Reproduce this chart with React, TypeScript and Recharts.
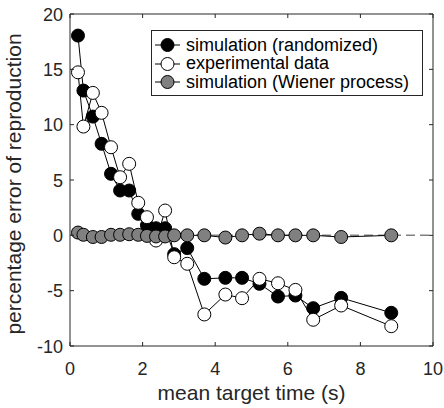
import React from "react";
import {
  Legend,
  Line,
  LineChart,
  ReferenceArea,
  ReferenceLine,
  XAxis,
  YAxis,
} from "recharts";

const targetTimes = [
  0.22, 0.37, 0.63, 0.87, 1.13, 1.38, 1.63, 1.88, 2.12, 2.37, 2.62, 2.87, 3.23,
  3.7, 4.28, 4.74, 5.22, 5.73, 6.21, 6.7, 7.47, 8.85,
];
const simRandomized = [
  18.05, 13.08, 10.73, 8.27, 5.56, 4.05, 4.05, 1.94, 0.9, 0.64, 0.64, -1.7,
  -1.15, -3.93, -3.84, -3.84, -4.38, -5.53, -5.44, -6.58, -5.65, -7.0,
];
const experimental = [
  14.73, 9.83, 12.87, 11.07, 7.96, 5.25, 6.46, 2.94, 1.64, -0.47, 2.24, -1.98,
  -2.57, -7.15, -5.35, -5.68, -3.93, -4.33, -4.93, -7.63, -6.34, -8.21,
];
const simWiener = [
  0.25, 0.05, -0.15, -0.15, 0.05, 0.05, 0.1, 0.05, -0.05, -0.1, -0.1, 0, 0, 0,
  -0.2, 0, 0.15, 0, 0, 0, -0.15, 0,
];
const xTicks = [0, 2, 4, 6, 8, 10];
const yTicks = [-10, -5, 0, 5, 10, 15, 20];
const seriesNames = [
  "simulation (randomized)",
  "experimental data",
  "simulation (Wiener process)",
];

const data = targetTimes.map((x, i) => ({
  x,
  sim: simRandomized[i],
  exp: experimental[i],
  wiener: simWiener[i],
}));

const FONT = "'Liberation Sans', Arial, Helvetica, sans-serif";
const AX = "#262626";
const GRAY = "#808080";
const TOP = 14;
const BOTTOM = 346;
const LEFT = 70;
const RIGHT = 433;
const TICK = 4;
const R = 6.5;

const fills = ["#000000", "#ffffff", GRAY];

function XTick({ x, payload }: any) {
  return (
    <g>
      <line x1={x} y1={BOTTOM} x2={x} y2={BOTTOM - TICK} stroke={AX} />
      <line x1={x} y1={TOP} x2={x} y2={TOP + TICK} stroke={AX} />
      <text
        x={x}
        y={375}
        textAnchor="middle"
        fontFamily={FONT}
        fontSize={18}
        fill={AX}
      >
        {payload.value}
      </text>
    </g>
  );
}

function YTick({ y, payload }: any) {
  return (
    <g>
      <line x1={LEFT} y1={y} x2={LEFT + TICK} y2={y} stroke={AX} />
      <line x1={RIGHT} y1={y} x2={RIGHT - TICK} y2={y} stroke={AX} />
      <text
        x={63}
        y={y + 6.5}
        textAnchor="end"
        fontFamily={FONT}
        fontSize={18}
        fill={AX}
      >
        {payload.value}
      </text>
    </g>
  );
}

function LegendBox() {
  return (
    <div
      style={{
        border: `1px solid ${AX}`,
        background: "#fff",
        padding: "5px 0 3px 0",
        fontFamily: FONT,
        fontSize: 18,
        color: "#000",
        width: 270,
      }}
    >
      {seriesNames.map((name, i) => (
        <div
          key={name}
          style={{ display: "flex", alignItems: "center", height: 18.5 }}
        >
          <svg width={34} height={18} style={{ flex: "none" }}>
            <line x1={3} y1={9} x2={28} y2={9} stroke="#000" strokeWidth={1} />
            <circle cx={15.5} cy={9} r={R} fill={fills[i]} stroke="#000" />
          </svg>
          <span style={{ whiteSpace: "nowrap" }}>{name}</span>
        </div>
      ))}
    </div>
  );
}

export default function App() {
  return (
    <div style={{ width: 444, height: 408, background: "#fff" }}>
      <style>{`body{margin:0}`}</style>
      <LineChart
        width={444}
        height={408}
        data={data}
        margin={{ top: TOP, right: 444 - RIGHT, left: 0, bottom: 0 }}
      >
        <XAxis
          dataKey="x"
          type="number"
          domain={[0, 10]}
          ticks={xTicks}
          height={62}
          tickLine={false}
          axisLine={false}
          tickSize={0}
          tick={<XTick />}
          interval={0}
          label={{
            content: () => (
              <text
                x={(LEFT + RIGHT) / 2}
                y={400}
                textAnchor="middle"
                fontFamily={FONT}
                fontSize={21}
                fill={AX}
              >
                mean target time (s)
              </text>
            ),
          }}
        />
        <YAxis
          type="number"
          domain={[-10, 20]}
          ticks={yTicks}
          width={LEFT}
          tickLine={false}
          axisLine={false}
          tickSize={0}
          tick={<YTick />}
          interval={0}
          label={{
            content: () => (
              <text
                x={21}
                y={184}
                transform="rotate(-90, 21, 184)"
                textAnchor="middle"
                fontFamily={FONT}
                fontSize={21}
                fill={AX}
              >
                percentage error of reproduction
              </text>
            ),
          }}
        />
        <ReferenceArea
          x1={0}
          x2={10}
          y1={-10}
          y2={20}
          fill="none"
          stroke={AX}
          strokeWidth={1}
        />
        <ReferenceLine
          y={0}
          stroke={GRAY}
          strokeWidth={1.5}
          strokeDasharray="9 5"
        />
        <Line
          dataKey="sim"
          stroke="#000"
          strokeWidth={1}
          dot={{ r: R, fill: fills[0], stroke: "#000", strokeWidth: 1 }}
          activeDot={false}
          isAnimationActive={false}
        />
        <Line
          dataKey="exp"
          stroke="#000"
          strokeWidth={1}
          dot={{ r: R, fill: fills[1], stroke: "#000", strokeWidth: 1 }}
          activeDot={false}
          isAnimationActive={false}
        />
        <Line
          dataKey="wiener"
          stroke="#000"
          strokeWidth={1}
          dot={{ r: R, fill: fills[2], stroke: "#000", strokeWidth: 1 }}
          activeDot={false}
          isAnimationActive={false}
        />
        <Legend
          layout="vertical"
          align="center"
          verticalAlign="middle"
          content={<LegendBox />}
          wrapperStyle={{ left: 151, top: 30, width: 272, height: "auto" }}
        />
      </LineChart>
    </div>
  );
}
